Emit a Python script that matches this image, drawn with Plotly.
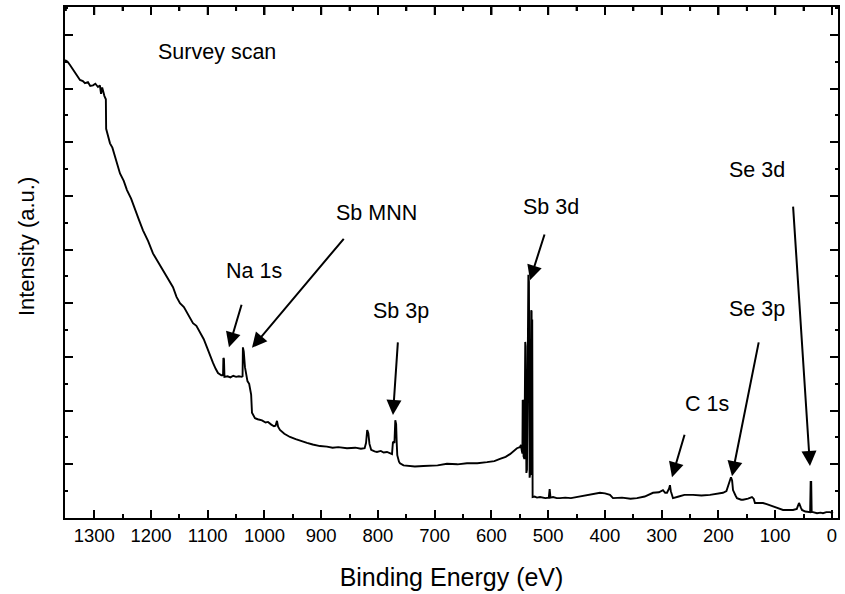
import plotly.graph_objects as go

# Binding energy (eV) and intensity (a.u.)
energy = [1351.5, 1347, 1342.7, 1336, 1330, 1325.1, 1320, 1316.3, 1311, 1307, 1302.2, 1298, 1293.4, 1290,
          1288, 1286, 1282, 1279.5, 1279, 1276, 1272.2, 1268, 1263.4, 1259, 1254.6, 1248, 1242.3, 1235,
          1228.2, 1221, 1214.1, 1205, 1196.5, 1188, 1178.9, 1170, 1161.2, 1155, 1148.9, 1142, 1136.6,
          1126.0, 1120, 1113.7, 1107, 1101.3, 1096, 1090.7, 1086, 1081.9, 1076, 1073, 1072.4, 1071.4,
          1070.5, 1065, 1060, 1055, 1050, 1045, 1040, 1038.6, 1038.0, 1036.5, 1034.4, 1030, 1027, 1025.6,
          1023.5, 1022.0, 1016.7, 1012, 1004.4, 998, 993.8, 988, 983.3, 980.5, 978.0, 976, 972.7, 965,
          955.1, 945, 935, 925.1, 915, 902.2, 890, 880, 870, 854.6, 840, 830, 823.5, 821, 819, 817, 815,
          812, 806, 801.8, 795, 790, 784.1, 778, 775.3, 773.6, 771, 769.5, 768.0, 767, 766.0, 763, 761.2,
          755, 748.9, 735, 720, 708.4, 695, 678.4, 660, 643.2, 625, 607.9, 595, 585.0, 575, 567.4, 561,
          555.1, 550, 548.0, 546.5, 545.5, 545.0, 544.2, 543.5, 542.0, 540.5, 539.8, 538.5, 537.5, 535.0,
          534.0, 532.8, 531.5, 530.0, 529.3, 528.8, 528.2, 527.5, 524, 519.8, 514.5, 505, 499, 497.5, 496,
          491.6, 485, 479.3, 470, 460, 449.3, 440, 430, 420, 408.8, 400, 391.2, 385.9, 370, 355, 343.6,
          330, 315.4, 305, 297.8, 294, 290.7, 287, 285.5, 284, 280.2, 270, 260, 244.9, 230, 215.0, 200,
          192.1, 186, 183.3, 180, 178.0, 176, 174.4, 170, 167.4, 160, 156.8, 148, 141.0, 138, 135.7, 128,
          121.6, 115, 109.3, 103, 96.9, 90, 86.3, 78, 68.7, 62, 58.1, 55, 52.9, 47, 42.3, 38.5, 37.6,
          36.6, 35.8, 33.5, 26.4, 20, 15.9, 10, 3.5, -1.8]
intensity = [8.53, 8.50, 8.44, 8.33, 8.25, 8.16, 8.14, 8.10, 8.12, 8.05, 8.06, 8.09, 8.03, 8.06,
             7.90, 8.02, 7.86, 7.80, 7.25, 7.15, 6.98, 6.90, 6.72, 6.60, 6.42, 6.28, 6.11, 5.95,
             5.74, 5.55, 5.36, 5.16, 4.93, 4.78, 4.62, 4.46, 4.30, 4.12, 4.00, 3.93, 3.82,
             3.63, 3.58, 3.45, 3.33, 3.18, 3.02, 2.89, 2.78, 2.70, 2.66, 2.66, 2.98, 2.96,
             2.63, 2.64, 2.62, 2.65, 2.63, 2.64, 2.63, 2.64, 3.18, 3.10, 2.81, 2.55, 2.50, 2.38,
             2.30, 1.96, 1.86, 1.84, 1.82, 1.78, 1.79, 1.74, 1.71, 1.72, 1.81, 1.70, 1.64, 1.57,
             1.51, 1.47, 1.43, 1.40, 1.37, 1.34, 1.33, 1.31, 1.32, 1.30, 1.31, 1.29, 1.30, 1.40, 1.64, 1.58, 1.38,
             1.27, 1.24, 1.23, 1.25, 1.22, 1.23, 1.20, 1.19, 1.42, 1.40, 1.82, 1.75, 1.40, 1.17, 1.05, 1.02,
             0.98, 0.97, 0.96, 0.97, 0.97, 0.98, 1.01, 1.00, 1.02, 1.02, 1.04, 1.06, 1.10, 1.14, 1.19, 1.24,
             1.30, 1.32, 1.36, 1.25, 1.20, 2.20, 2.18, 1.15, 1.10, 3.28, 3.20, 0.84, 0.90, 4.53,
             4.40, 0.75, 0.85, 3.87, 3.85, 0.80, 3.70, 0.39, 0.40, 0.38, 0.39, 0.37, 0.38, 0.54, 0.38,
             0.39, 0.37, 0.37, 0.38, 0.37, 0.39, 0.40, 0.42, 0.44, 0.47, 0.46, 0.43, 0.37, 0.38, 0.36, 0.37,
             0.40, 0.47, 0.48, 0.52, 0.47, 0.47, 0.55, 0.61, 0.50, 0.37, 0.40, 0.43, 0.43, 0.42, 0.43, 0.45,
             0.47, 0.50, 0.58, 0.66, 0.76, 0.70, 0.52, 0.42, 0.37, 0.34, 0.34, 0.36, 0.39, 0.36, 0.28, 0.28,
             0.28, 0.26, 0.24, 0.22, 0.19, 0.16, 0.15, 0.15, 0.15, 0.17, 0.28, 0.20, 0.15, 0.12, 0.11, 0.11, 0.67,
             0.67, 0.11, 0.11, 0.09, 0.10, 0.09, 0.11, 0.11, 0.09]

# Peak labels: text, text position, arrow tail, arrow tip (eV, a.u.)
peak_labels = ["Na 1s", "Sb MNN", "Sb 3p", "Sb 3d", "C 1s", "Se 3p", "Se 3d"]
label_x = [1018.5, 801.8, 759.5, 495.2, 220.3, 132.2, 132.2]
label_y = [4.60, 5.68, 3.85, 5.79, 2.12, 3.89, 6.48]
tail_x = [1039.6, 858.1, 764.8, 505.7, 259.0, 128.6, 68.7]
tail_y = [4.00, 5.23, 3.30, 5.31, 1.58, 3.30, 5.83]
tip_x = [1062.6, 1022.0, 773.6, 532.2, 281.9, 176.2, 38.8]
tip_y = [3.18, 3.17, 1.92, 4.43, 0.76, 0.78, 0.97]

x_ticks = list(range(0, 1301, 100))
x_minor_ticks = list(range(50, 1351, 100))
x_range = [1351.5, -10.6]
y_range = [0, 9.52]

FONT = "Liberation Sans, Arial, Helvetica, sans-serif"
PLOT_H = 594 - 7 - 76

fig = go.Figure()
fig.add_trace(go.Scatter(x=energy, y=intensity, mode="lines",
                         line=dict(color="black", width=1.9), hoverinfo="skip", showlegend=False))

annotations = [dict(x=1083.7, y=8.68, xref="x", yref="y", text="Survey scan", showarrow=False,
                    font=dict(family=FONT, size=21.5, color="black"))]
for t, lx, ly, ax, ay, px, py in zip(peak_labels, label_x, label_y, tail_x, tail_y, tip_x, tip_y):
    annotations.append(dict(x=lx, y=ly, xref="x", yref="y", text=t, showarrow=False,
                            font=dict(family=FONT, size=21.5, color="black")))
    annotations.append(dict(x=px, y=py, xref="x", yref="y", ax=ax, ay=ay, axref="x", ayref="y",
                            text="", showarrow=True, arrowhead=2, arrowsize=1.5, arrowwidth=2,
                            arrowcolor="black", standoff=0, startstandoff=0))
# y-axis title (placed as rotated text to match the reference position)
annotations.append(dict(x=-0.0505, y=0.532, xref="paper", yref="paper", text="Intensity (a.u.)",
                        textangle=-90, showarrow=False, xanchor="center", yanchor="middle",
                        font=dict(family=FONT, size=22, color="black")))

# top-edge tick marks, built from the x tick values
shapes = []
for v in x_ticks:
    shapes.append(dict(type="line", xref="x", yref="paper", x0=v, x1=v, y0=1, y1=1 - 8 / PLOT_H,
                       line=dict(color="black", width=2)))
for v in x_minor_ticks:
    shapes.append(dict(type="line", xref="x", yref="paper", x0=v, x1=v, y0=1, y1=1 - 4 / PLOT_H,
                       line=dict(color="black", width=2)))

axis_common = dict(showline=True, linecolor="black", linewidth=2, mirror="ticks",
                   ticks="inside", tickwidth=2, tickcolor="black", ticklen=8,
                   showgrid=False, zeroline=False, automargin=False)

fig.update_layout(
    width=845, height=594,
    margin=dict(l=65, r=7, t=7, b=76),
    paper_bgcolor="white", plot_bgcolor="white",
    font=dict(family=FONT, color="black"),
    annotations=annotations,
    shapes=shapes,
    xaxis=dict(range=x_range, tickvals=x_ticks, ticktext=[str(v) for v in x_ticks],
               tickfont=dict(size=18.5, family=FONT, color="black"),
               minor=dict(ticks="inside", ticklen=4, tickwidth=2, tickcolor="black", dtick=50, tick0=0),
               title=dict(text="Binding Energy (eV)", font=dict(size=25, family=FONT, color="black"),
                          standoff=23),
               **axis_common),
    yaxis=dict(range=y_range, tick0=0, dtick=1, showticklabels=False,
               minor=dict(ticks="inside", ticklen=3, tickwidth=2, tickcolor="black", dtick=0.5, tick0=0),
               **axis_common),
)

fig.write_html("out.html", config={"displayModeBar": False},
               post_script="document.body.style.margin='0';document.body.style.overflow='hidden';")
